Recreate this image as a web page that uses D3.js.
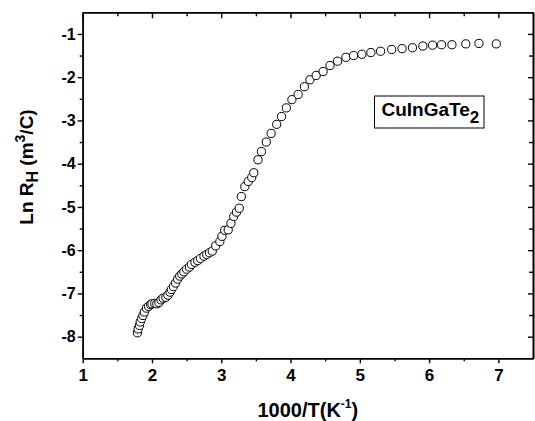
<!DOCTYPE html>
<html>
<head>
<meta charset="utf-8">
<script src="https://cdn.jsdelivr.net/npm/d3@7"></script>
<style>
  body { margin: 0; background: #fff; }
  svg { font-family: "Liberation Sans", Arial, sans-serif; font-weight: bold; }
</style>
</head>
<body>
<svg id="chart" width="535" height="421"></svg>
<script>
// 1000/T (K^-1)
var invT = [1.79, 1.80, 1.82, 1.83, 1.85, 1.87, 1.89, 1.92, 1.95, 1.98,
            2.00, 2.04, 2.07, 2.10, 2.13, 2.16, 2.20, 2.23, 2.26, 2.28,
            2.31, 2.34, 2.37, 2.40, 2.43, 2.46, 2.50, 2.54, 2.57, 2.62,
            2.66, 2.70, 2.75, 2.79, 2.83, 2.87, 2.92, 2.98, 3.01, 3.05,
            3.10, 3.14, 3.18, 3.22, 3.26, 3.29, 3.34, 3.39, 3.44, 3.47,
            3.53, 3.58, 3.65, 3.72, 3.80, 3.87, 3.94, 4.02, 4.11, 4.20,
            4.28, 4.37, 4.47, 4.57, 4.68, 4.80, 4.91, 5.03, 5.16, 5.30,
            5.46, 5.61, 5.76, 5.91, 6.05, 6.18, 6.33, 6.53, 6.72, 6.97]
// Ln RH (m^3/C)
var lnRH = [-7.91, -7.82, -7.74, -7.66, -7.58, -7.51, -7.43, -7.34, -7.30, -7.26,
            -7.24, -7.23, -7.24, -7.21, -7.15, -7.11, -7.09, -7.04, -6.97, -6.91,
            -6.84, -6.76, -6.67, -6.60, -6.55, -6.50, -6.44, -6.39, -6.33, -6.28,
            -6.24, -6.19, -6.14, -6.10, -6.06, -6.02, -5.90, -5.80, -5.68, -5.54,
            -5.53, -5.38, -5.22, -5.12, -5.03, -4.76, -4.53, -4.41, -4.32, -4.21,
            -3.91, -3.72, -3.50, -3.30, -3.09, -2.91, -2.71, -2.52, -2.40, -2.22,
            -2.06, -1.96, -1.87, -1.73, -1.63, -1.54, -1.50, -1.47, -1.43, -1.40,
            -1.36, -1.34, -1.32, -1.28, -1.26, -1.25, -1.25, -1.23, -1.22, -1.23]

var xMajor = [1, 2, 3, 4, 5, 6, 7]
var xMinor = [1.5, 2.5, 3.5, 4.5, 5.5, 6.5]
var yMajor = [-1, -2, -3, -4, -5, -6, -7, -8]
var yMinor = [-1.5, -2.5, -3.5, -4.5, -5.5, -6.5, -7.5]
var sampleName = "CuInGaTe"

var pad = {left: 82.7, right: 533, top: 12.3, bottom: 358.3}

var svg = d3.select("#chart")

var x = d3.scaleLinear().domain([1, 7.5]).range([pad.left, pad.right])
var y = d3.scaleLinear().domain([-8.5, -0.5]).range([pad.bottom, pad.top])

function styleAxis(g) {
    g.selectAll("path.domain").attr("stroke", "#000").attr("stroke-width", 1.6)
    g.selectAll(".tick line").attr("stroke", "#000").attr("stroke-width", 1.4)
}

// minor ticks first
svg.append("g").attr("transform", "translate(0," + pad.bottom + ")")
    .call(d3.axisBottom(x).tickValues(xMinor).tickSize(3).tickSizeOuter(0).tickFormat(""))
    .call(styleAxis)
svg.append("g").attr("transform", "translate(0," + pad.top + ")")
    .call(d3.axisTop(x).tickValues(xMinor).tickSize(-4).tickSizeOuter(0).tickFormat(""))
    .call(styleAxis)
svg.append("g").attr("transform", "translate(" + pad.left + ",0)")
    .call(d3.axisLeft(y).tickValues(yMinor).tickSize(3).tickSizeOuter(0).tickFormat(""))
    .call(styleAxis)
svg.append("g").attr("transform", "translate(" + pad.right + ",0)")
    .call(d3.axisRight(y).tickValues(yMinor).tickSize(-4).tickSizeOuter(0).tickFormat(""))
    .call(styleAxis)

// major ticks
var xb = svg.append("g").attr("transform", "translate(0," + pad.bottom + ")")
    .call(d3.axisBottom(x).tickValues(xMajor).tickSize(5).tickSizeOuter(0).tickPadding(6).tickFormat(d3.format("d")))
    .call(styleAxis)
xb.attr("font-size", 17).attr("font-family", null)
xb.selectAll("text").attr("fill", "#000")

svg.append("g").attr("transform", "translate(0," + pad.top + ")")
    .call(d3.axisTop(x).tickValues(xMajor).tickSize(-6).tickSizeOuter(0).tickFormat(""))
    .call(styleAxis)

var yl = svg.append("g").attr("transform", "translate(" + pad.left + ",0)")
    .call(d3.axisLeft(y).tickValues(yMajor).tickSize(5).tickSizeOuter(0).tickPadding(2).tickFormat(d3.format("d")))
    .call(styleAxis)
yl.attr("font-size", 16).attr("font-family", null)
yl.selectAll("text").attr("fill", "#000")
    .text(function (d) { return "-" + Math.abs(d) })

svg.append("g").attr("transform", "translate(" + pad.right + ",0)")
    .call(d3.axisRight(y).tickValues(yMajor).tickSize(-5).tickSizeOuter(0).tickFormat(""))
    .call(styleAxis)

// data points
svg.append("g").selectAll("circle")
    .data(invT.map(function (v, i) { return [v, lnRH[i]] }))
    .enter().append("circle")
    .attr("cx", function (d) { return x(d[0]) })
    .attr("cy", function (d) { return y(d[1]) })
    .attr("r", 4.1)
    .attr("fill", "#fff")
    .attr("stroke", "#000")
    .attr("stroke-width", 1)

// legend box
svg.append("rect")
    .attr("x", 374.5).attr("y", 96).attr("width", 109.5).attr("height", 32)
    .attr("fill", "#fff").attr("stroke", "#000").attr("stroke-width", 1)
var lt = svg.append("text").attr("x", 381.5).attr("y", 115.5).attr("font-size", 19).attr("fill", "#000")
lt.append("tspan").text(sampleName)
lt.append("tspan").attr("font-size", 17).attr("dy", 7).text("2")

// x title
var xt = svg.append("text").attr("x", (pad.left + pad.right) / 2).attr("y", 417)
    .attr("text-anchor", "middle").attr("font-size", 20).attr("fill", "#000")
xt.append("tspan").text("1000/T(K")
xt.append("tspan").attr("font-size", 12).attr("dy", -9).text("-1")
xt.append("tspan").attr("dy", 9).text(")")

// y title
var yt = svg.append("text")
    .attr("transform", "translate(33,167) rotate(-90)")
    .attr("text-anchor", "middle").attr("font-size", 19).attr("fill", "#000")
yt.append("tspan").text("Ln R")
yt.append("tspan").attr("font-size", 16).attr("dy", 5).text("H")
yt.append("tspan").attr("dy", -5).text(" (m")
yt.append("tspan").attr("font-size", 14).attr("dy", -8).text("3")
yt.append("tspan").attr("dy", 8).text("/C)")
</script>
</body>
</html>
